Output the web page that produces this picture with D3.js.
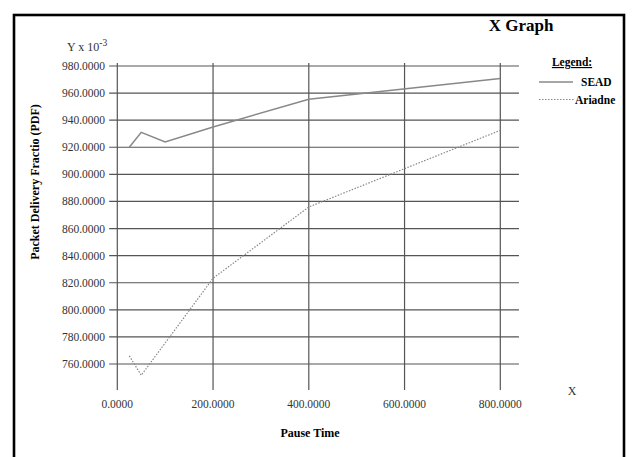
<!DOCTYPE html>
<html>
<head>
<meta charset="utf-8">
<script src="https://cdn.jsdelivr.net/npm/d3@7"></script>
<style>
  html, body { margin: 0; padding: 0; background: #fff; }
  svg { display: block; font-family: "Liberation Serif", "Times New Roman", serif; }
</style>
</head>
<body>
<svg id="chart" width="635" height="457"></svg>
<script>
// Pause time (x) and packet delivery fraction x 10^-3 (y)
const pauseTimes = [25, 50, 100, 200, 400, 800];
const seadValues = [920, 931, 924, 935, 955.5, 970.7];
const ariadneValues = [766, 751.7, 775.5, 823.3, 875.9, 932.5];
const xTickValues = [0, 200, 400, 600, 800];
const yTickValues = [760, 780, 800, 820, 840, 860, 880, 900, 920, 940, 960, 980];
const seriesNames = ["SEAD", "Ariadne"];

const svg = d3.select("#chart");

const x = d3.scaleLinear().domain([0, 800]).range([117.3, 500.3]);
const y = d3.scaleLinear().domain([760, 980]).range([364, 66]);
const fmt = d3.format(".4f");

// frame
svg.append("rect")
  .attr("x", 14).attr("y", 15)
  .attr("width", 610).attr("height", 460)
  .attr("fill", "none").attr("stroke", "#000").attr("stroke-width", 2.6);

// grid: horizontal lines (extend left past the axis as tick marks)
const gridX0 = x(-17), gridX1 = x(839);
const gridY0 = y(982.2), gridY1 = y(740.8);
svg.append("g").selectAll("line").data(yTickValues).join("line")
  .attr("x1", gridX0).attr("x2", gridX1)
  .attr("y1", d => y(d)).attr("y2", d => y(d))
  .attr("stroke", "#555").attr("stroke-width", 1.2);

svg.append("g").selectAll("line").data(xTickValues).join("line")
  .attr("x1", d => x(d)).attr("x2", d => x(d))
  .attr("y1", gridY0).attr("y2", gridY1)
  .attr("stroke", "#555").attr("stroke-width", 1.2);

// tick labels
svg.append("g").selectAll("text").data(yTickValues).join("text")
  .attr("x", 105).attr("y", d => y(d) + 4)
  .attr("text-anchor", "end")
  .attr("font-size", 11.5).attr("fill", "#333")
  .text(d => fmt(d));

svg.append("g").selectAll("text").data(xTickValues).join("text")
  .attr("x", d => x(d)).attr("y", 408)
  .attr("text-anchor", "middle")
  .attr("font-size", 11.5).attr("fill", "#333")
  .text(d => fmt(d));

// series
const seadData = pauseTimes.map((p, i) => [p, seadValues[i]]);
const ariadneData = pauseTimes.map((p, i) => [p, ariadneValues[i]]);
const line = d3.line().x(d => x(d[0])).y(d => y(d[1]));

svg.append("path").datum(seadData)
  .attr("d", line).attr("fill", "none")
  .attr("stroke", "#888").attr("stroke-width", 1.5);

svg.append("path").datum(ariadneData)
  .attr("d", line).attr("fill", "none")
  .attr("stroke", "#888").attr("stroke-width", 1.2)
  .attr("stroke-dasharray", "1.5,1.5");

// axis unit labels
const yUnit = svg.append("text").attr("x", 67).attr("y", 51)
  .attr("font-size", 12).attr("fill", "#333");
yUnit.append("tspan").text("Y x 10");
yUnit.append("tspan").attr("dy", -5).attr("font-size", 9.5).text("-3");

svg.append("text").attr("x", 572).attr("y", 395)
  .attr("text-anchor", "middle").attr("font-size", 12).attr("fill", "#333")
  .text("X");

// titles
svg.append("text").attr("x", 521).attr("y", 31)
  .attr("text-anchor", "middle").attr("font-size", 17).attr("font-weight", "bold")
  .text("X Graph");

svg.append("text").attr("x", 310).attr("y", 437)
  .attr("text-anchor", "middle").attr("font-size", 12).attr("font-weight", "bold")
  .text("Pause Time");

svg.append("text")
  .attr("transform", "translate(39,182) rotate(-90)")
  .attr("text-anchor", "middle").attr("font-size", 12).attr("font-weight", "bold")
  .text("Packet Delivery Fractio (PDF)");

// legend
svg.append("text").attr("x", 572).attr("y", 66)
  .attr("text-anchor", "middle").attr("font-size", 11.5).attr("font-weight", "bold")
  .attr("text-decoration", "underline")
  .text("Legend:");

const legendTextX = [581, 575];
const legendRows = svg.append("g").selectAll("g").data(seriesNames).join("g")
  .attr("transform", (d, i) => `translate(0,${82 + i * 17.5})`);
legendRows.append("line")
  .attr("x1", 539).attr("x2", (d, i) => i === 0 ? 573 : 574).attr("y1", 0).attr("y2", 0)
  .attr("stroke", "#888")
  .attr("stroke-width", (d, i) => i === 0 ? 1.5 : 1.2)
  .attr("stroke-dasharray", (d, i) => i === 0 ? null : "1.5,1.5");
legendRows.append("text")
  .attr("x", (d, i) => legendTextX[i]).attr("y", 4)
  .attr("font-size", 11.5).attr("font-weight", "bold")
  .text(d => d);
</script>
</body>
</html>
